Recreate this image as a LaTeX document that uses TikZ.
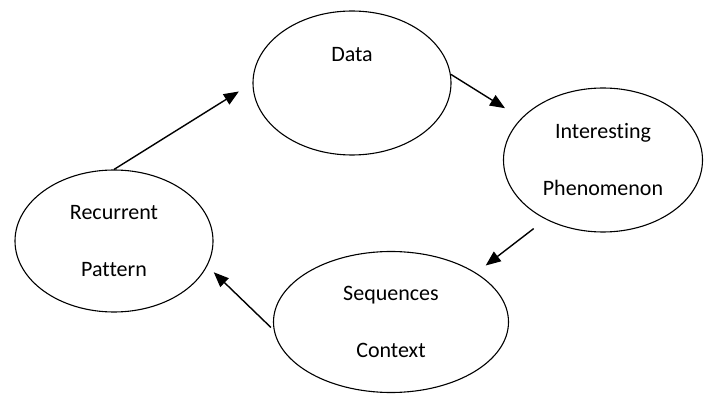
\documentclass[tikz,border=0pt]{standalone}
\usepackage{fontspec}
\setmainfont{Carlito}[Ligatures={NoCommon,NoRare}]
\usetikzlibrary{shapes.geometric,arrows.meta}
\begin{document}
\begin{tikzpicture}[x=1pt,y=-1pt,
  oval/.style={draw, ellipse, line width=1.1pt, inner sep=0pt, align=center,
    font=\fontsize{22}{57}\selectfont},
  flow/.style={line width=1.4pt, -{Triangle[length=15pt,width=12pt]}}]
\useasboundingbox (0,0) rectangle (704,395);
% the four stages
\node [oval, minimum width=198pt, minimum height=144pt] (data) at (352,83) {Data\\ \mbox{}};
\node [oval, minimum width=199pt, minimum height=144pt] (intr) at (603,160) {Interesting\\Phenomenon};
\node [oval, minimum width=235pt, minimum height=141pt] (seq) at (391,322) {Sequences\\Context};
\node [oval, minimum width=198pt, minimum height=142pt] (rec) at (114,241) {Recurrent\\Pattern};
% the cycle
\draw [flow, shorten >=16pt] (rec.north) -- (data.west);
\draw [flow, shorten >=19pt] (data.5) -- (intr.153);
\draw [flow, shorten <=15pt, shorten >=12pt] (intr.226) -- (seq.30);
\draw [flow, shorten <=4pt, shorten >=9pt] (seq.184) -- (rec.345);
\end{tikzpicture}
\end{document}
